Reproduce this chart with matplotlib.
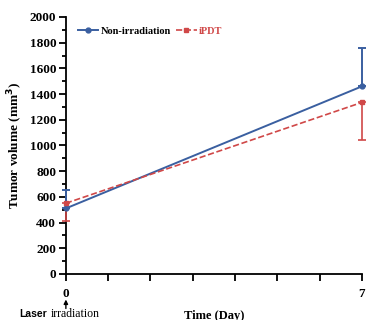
import matplotlib
matplotlib.use("Agg")
import matplotlib.pyplot as plt
from matplotlib.lines import Line2D
from matplotlib.ticker import MultipleLocator

plt.rcParams['font.family'] = ['Liberation Serif', 'DejaVu Serif']
plt.rcParams['font.weight'] = 'bold'

days = [0, 7]
non_irr = [510, 1460]
non_irr_err = [140, 300]
ipdt = [550, 1335]
ipdt_err = [140, 290]

blue = '#3a5fa0'
red = '#d04848'

fig = plt.figure(figsize=(3.66, 3.2), dpi=100)
ax = fig.add_axes([0.180, 0.144, 0.809, 0.803])

# one-sided error bars: up for blue, down for red
ax.errorbar(days, non_irr, yerr=[[0, 0], non_irr_err], color=blue, lw=1.4,
            marker='o', ms=3.5, capsize=3, elinewidth=1.4, capthick=1.4,
            clip_on=False, zorder=3)
ax.errorbar(days, ipdt, yerr=[ipdt_err, [0, 0]], color=red, lw=1.2, ls='--',
            marker='s', ms=3.2, capsize=3, elinewidth=1.2, capthick=1.2,
            clip_on=False, zorder=3)

ax.set_xlim(0, 7)
ax.set_ylim(0, 2000)
ax.set_xticks([0, 1, 2, 3, 4, 5, 6, 7])
ax.set_xticklabels(['0', '', '', '', '', '', '', '7'])
ax.set_yticks(range(0, 2001, 200))
ax.yaxis.set_minor_locator(MultipleLocator(100))
ax.tick_params(axis='both', labelsize=9.5, width=1.3, length=5, pad=2)
ax.tick_params(axis='x', pad=5)
ax.tick_params(axis='y', which='minor', width=1.3, length=3)
for lbl in ax.get_xticklabels() + ax.get_yticklabels():
    lbl.set_fontweight('bold')

for s in ['top', 'right']:
    ax.spines[s].set_visible(False)
for s in ['left', 'bottom']:
    ax.spines[s].set_linewidth(1.3)

ax.set_ylabel('Tumor volume (mm$^\\mathbf{3}$)', fontsize=9.5, fontweight='bold', labelpad=3)
ax.set_xlabel('Time (Day)', fontsize=9, fontweight='bold', labelpad=7)

# laser irradiation marker under day 0
x0 = ax.transData.transform((0, 0))[0] / fig.bbox.width
ax.annotate('', xy=(x0, 0.064), xytext=(x0, 0.036), xycoords='figure fraction',
            textcoords='figure fraction', annotation_clip=False,
            arrowprops=dict(arrowstyle='-|>', color='black', lw=1, mutation_scale=6,
                            shrinkA=0, shrinkB=0))
fig.text(0.090, 0.008, 'Laser', fontsize=7.5, fontweight='bold',
         family=['Liberation Sans Narrow', 'Liberation Sans', 'DejaVu Sans'],
         ha='center', va='baseline')
fig.text(0.207, 0.008, 'irradiation', fontsize=8.5, fontweight='normal',
         ha='center', va='baseline')

handles = [Line2D([], [], color=blue, lw=1.4, marker='o', ms=3.5),
           Line2D([], [], color=red, lw=1.2, ls='--', marker='s', ms=3.2)]
leg = ax.legend(handles, ['Non-irradiation', 'iPDT'], loc='upper left',
                bbox_to_anchor=(0.015, 0.99), ncol=2, frameon=False,
                fontsize=7.5, handlelength=2.0, handletextpad=0.2, columnspacing=0.5,
                borderaxespad=0.3)
for txt, c in zip(leg.get_texts(), ['black', red]):
    txt.set_color(c)
    txt.set_fontweight('bold')

fig.savefig('out.png', dpi=100)
